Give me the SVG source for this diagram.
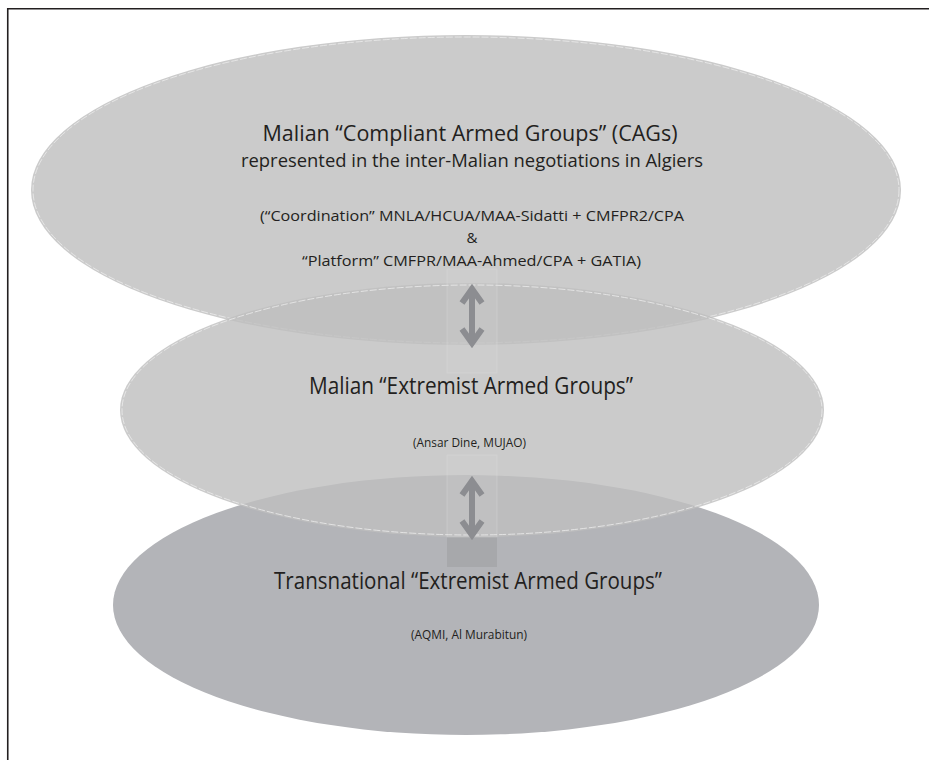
<svg xmlns="http://www.w3.org/2000/svg" width="929" height="760" viewBox="0 0 929 760">
<defs>
<style>
.t{font-family:"Open Sans","Noto Sans","Liberation Sans",sans-serif;fill:#231f20;text-anchor:middle}
.edge{fill:none;stroke:#ececec;stroke-width:1;stroke-dasharray:7 2;opacity:0.8}
.arr{fill:none;stroke:#8c8d91;stroke-width:6;stroke-linecap:butt;stroke-linejoin:miter}
</style>
</defs>
<rect width="929" height="760" fill="#ffffff"/>
<path d="M7.75 760 V8.75 H929" fill="none" stroke="#231f20" stroke-width="1.6"/>

<g id="top-ellipse">
<ellipse cx="466" cy="190" rx="435" ry="155" fill="#cbcbcb"/>
<ellipse class="edge" cx="466" cy="190" rx="433" ry="153"/>
</g>
<g id="bottom-ellipse">
<ellipse cx="466" cy="605" rx="353" ry="130" fill="#b3b4b8"/>
<rect x="447" y="537" width="50" height="30" fill="#a7a8ab"/>
</g>
<g id="middle-ellipse">
<ellipse cx="472" cy="410" rx="352" ry="127" fill="#bfbfbf" fill-opacity="0.81"/>
<ellipse class="edge" cx="472" cy="410" rx="350" ry="125"/>
</g>

<rect x="447" y="269" width="50" height="104" fill="#ffffff" fill-opacity="0.05" stroke="#e4e4e4" stroke-opacity="0.5" stroke-width="0.6"/>
<rect x="447" y="455" width="50" height="82" fill="#ffffff" fill-opacity="0.05" stroke="#e4e4e4" stroke-opacity="0.5" stroke-width="0.6"/>

<g id="connectors">
<path class="arr" d="M472 290 V343 M462 303 L472 289 L482 303 M462 329 L472 343 L482 329"/>
<path class="arr" d="M472 482 V535 M462 495 L472 481 L482 495 M462 521 L472 535 L482 521"/>
</g>

<g id="top-text">
<text class="t" x="470" y="141" font-size="22" textLength="415" lengthAdjust="spacingAndGlyphs">Malian “Compliant Armed Groups” (CAGs)</text>
<text class="t" x="472" y="167" font-size="19" textLength="462" lengthAdjust="spacingAndGlyphs">represented in the inter-Malian negotiations in Algiers</text>
<text class="t" x="472" y="221" font-size="15" textLength="424" lengthAdjust="spacingAndGlyphs">(“Coordination” MNLA/HCUA/MAA-Sidatti + CMFPR2/CPA</text>
<text class="t" x="472" y="243" font-size="15">&amp;</text>
<text class="t" x="471.5" y="266" font-size="15" textLength="339" lengthAdjust="spacingAndGlyphs">“Platform” CMFPR/MAA-Ahmed/CPA + GATIA)</text>
</g>
<g id="middle-text">
<text class="t" x="471" y="394" font-size="23" textLength="324" lengthAdjust="spacingAndGlyphs">Malian “Extremist Armed Groups”</text>
<text class="t" x="469.5" y="447" font-size="13" textLength="113" lengthAdjust="spacingAndGlyphs">(Ansar Dine, MUJAO)</text>
</g>
<g id="bottom-text">
<text class="t" x="468" y="589" font-size="23" textLength="388" lengthAdjust="spacingAndGlyphs">Transnational “Extremist Armed Groups”</text>
<text class="t" x="469" y="639" font-size="13" textLength="116" lengthAdjust="spacingAndGlyphs">(AQMI, Al Murabitun)</text>
</g>
</svg>
